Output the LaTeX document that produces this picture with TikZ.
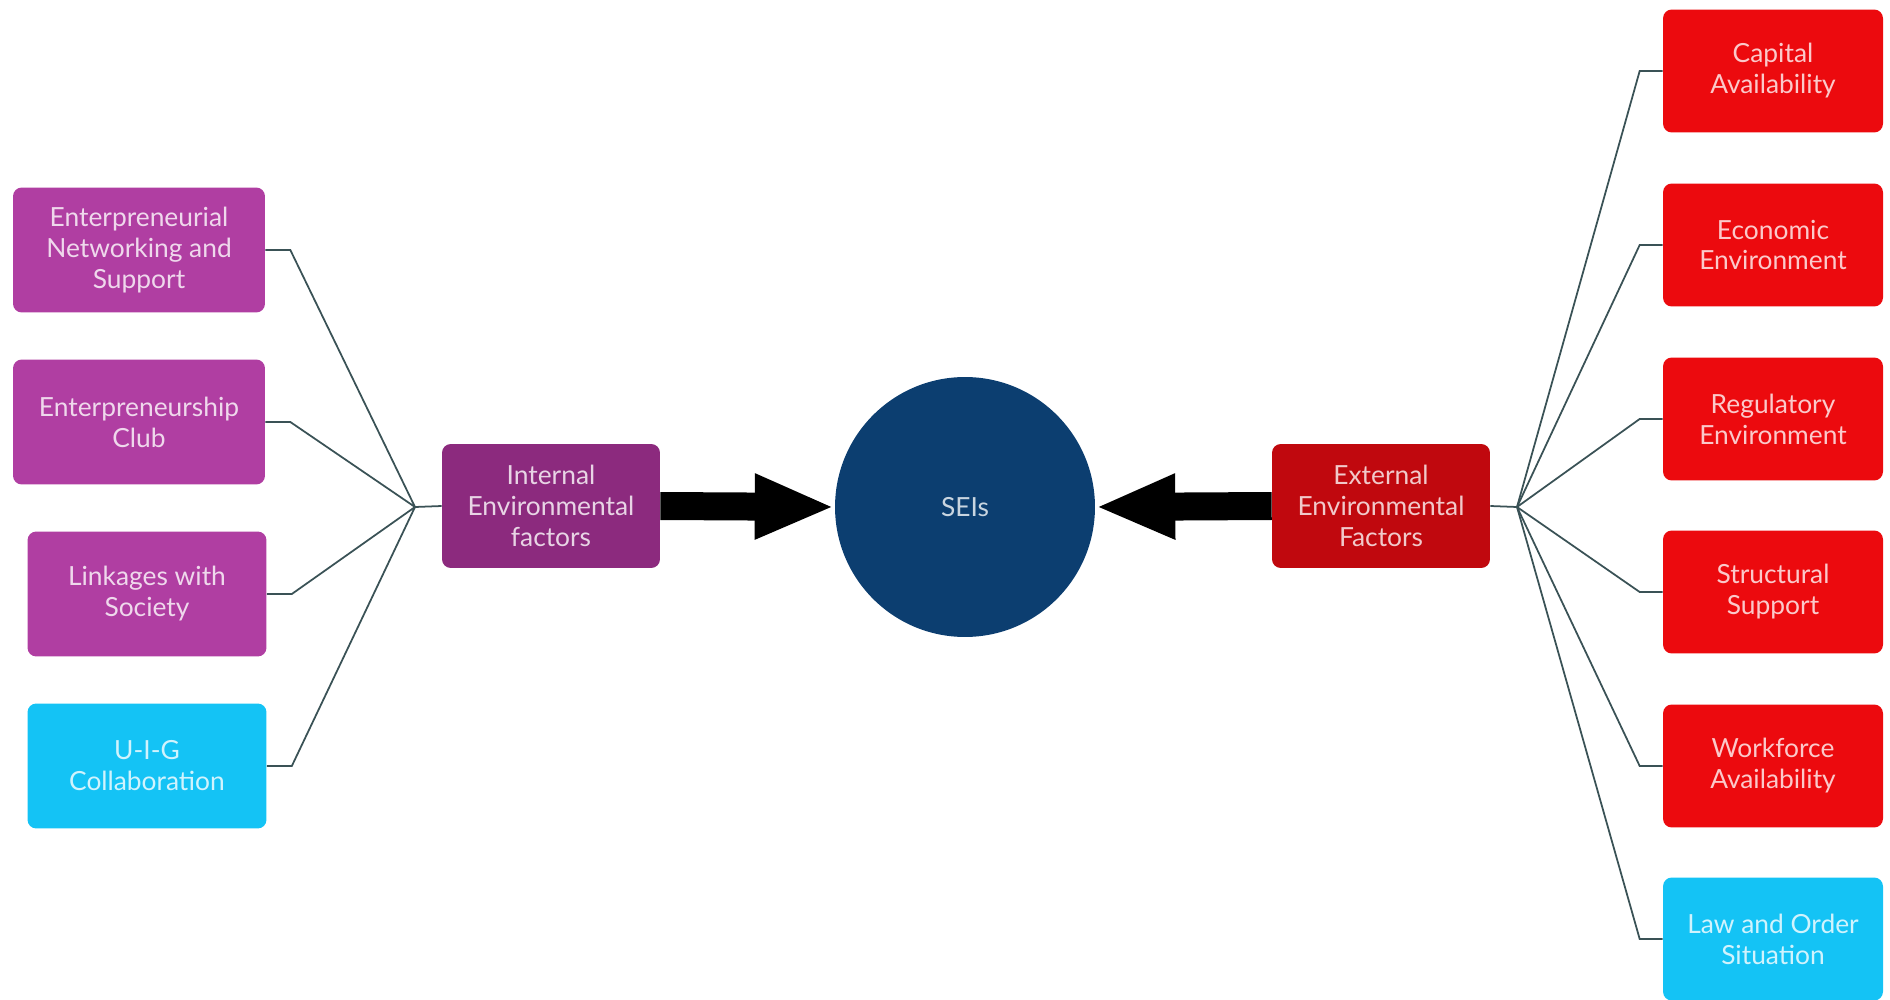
\documentclass[tikz,border=0pt]{standalone}
\usepackage{fontspec}
\setmainfont{Lato}
\usepackage{tikz}
\usetikzlibrary{arrows.meta}
\usetikzlibrary{positioning}
\usepackage{xcolor}
\definecolor{plum}{RGB}{176,62,162}
\definecolor{plumdark}{RGB}{140,42,126}
\definecolor{skyc}{RGB}{20,195,245}
\definecolor{redc}{RGB}{236,10,14}
\definecolor{reddark}{RGB}{192,8,14}
\definecolor{navyc}{RGB}{12,62,112}
\definecolor{linkc}{RGB}{58,82,86}
\tikzset{
  every node/.style={font=\fontsize{15}{17.6}\selectfont},
}

\begin{document}
\begin{tikzpicture}[x=0.02cm, y=-0.02cm]
  \tikzset{
    factor/.style={
      draw=none,
      rectangle,
      rounded corners=5pt,
      align=center,
      inner sep=2pt
    },
    inbox/.style={
      factor,
      fill=plum,
      text=white!80!plum,
      minimum width=5.04cm,
      minimum height=2.5cm
    },
    cyanbox/.style={
      factor,
      fill=skyc,
      text=white!80!skyc
    },
    outbox/.style={
      factor,
      fill=redc,
      text=white!78!redc,
      minimum width=4.4cm,
      minimum height=2.46cm
    },
    link/.style={
      draw=linkc,
      line width=1pt
    },
    push/.style={
      draw=black,
      line width=0.56cm,
      -{Triangle[length=1.6cm, width=1.2cm]}
    }
  }
  \useasboundingbox (0,0) rectangle (1890,1000);

  % Internal factors
  \node[inbox] (enw) at (139,250) {Enterpreneurial\\Networking and\\Support};
  \node[inbox] (ec) at (139,422) {Enterpreneurship\\Club};
  \node[inbox, minimum width=4.78cm] (lws) at (147,594) {Linkages with\\Society};
  \node[cyanbox, minimum width=4.78cm, minimum height=2.5cm] (uig) at (147,766) {U-I-G\\Collaboration};

  % Groups and centre
  \node[factor, fill=plumdark, text=white!80!plumdark,
        minimum width=4.36cm, minimum height=2.48cm] (ief) at (551,506)
        {Internal\\Environmental\\factors};
  \node[circle, fill=navyc, text=white!78!navyc, minimum size=5.2cm,
        inner sep=0pt] (sei) at (965,507) {SEIs};
  \node[factor, fill=reddark, text=white!78!reddark,
        minimum width=4.36cm, minimum height=2.48cm] (eef) at (1381,506)
        {External\\Environmental\\Factors};

  % External factors
  \node[outbox] (cap) at (1773,71) {Capital\\Availability};
  \node[outbox] (eco) at (1773,245) {Economic\\Environment};
  \node[outbox] (reg) at (1773,419) {Regulatory\\Environment};
  \node[outbox] (str) at (1773,592) {Structural\\Support};
  \node[outbox] (wfa) at (1773,766) {Workforce\\Availability};
  \node[cyanbox, minimum width=4.4cm, minimum height=2.46cm] (lao) at (1773,939)
        {Law and Order\\Situation};

  % Hubs
  \coordinate (lhub) at (415,507);
  \coordinate (rhub) at (1517,507);

  % Edges
  \foreach \f in {enw,ec,lws,uig}
    \draw[link] (\f.east) -- +(25,0) -- (lhub);
  \draw[link] (lhub) -- (ief.west);
  \foreach \f in {cap,eco,reg,str,wfa,lao}
    \draw[link] (\f.west) -- +(-23,0) -- (rhub);
  \draw[link] (eef.east) -- (rhub);

  % Arrows into SEIs
  \draw[push] (ief.east) -- (sei.west);
  \draw[push] (eef.west) -- (sei.east);
\end{tikzpicture}
\end{document}
